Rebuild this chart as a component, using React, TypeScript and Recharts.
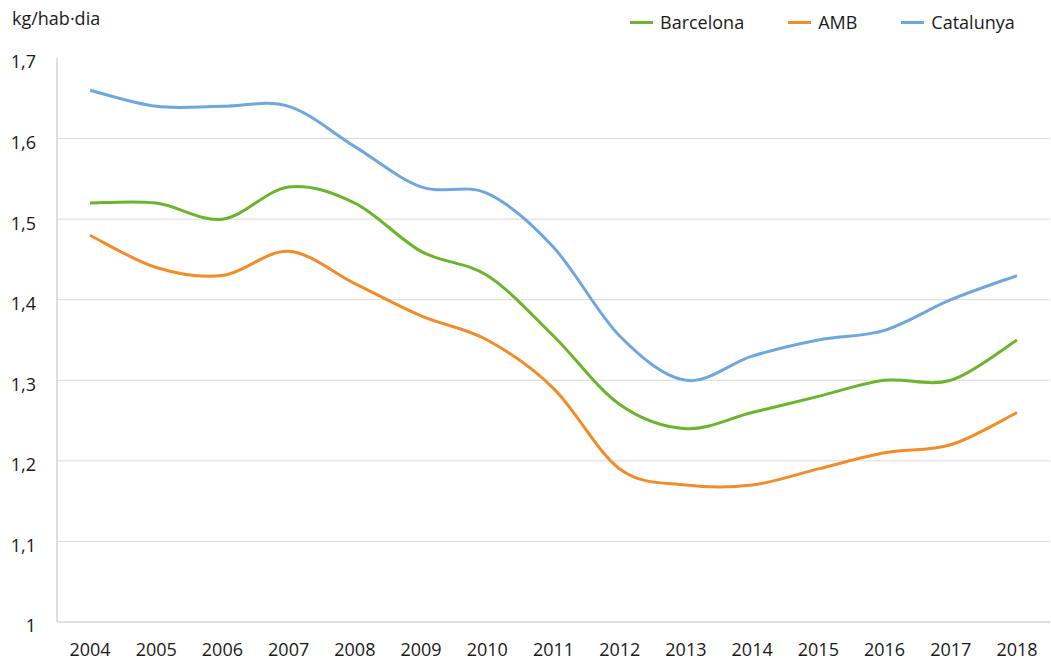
import React from 'react';
import { LineChart, Line, XAxis, YAxis, ReferenceLine } from 'recharts';

const years = ['2004', '2005', '2006', '2007', '2008', '2009', '2010', '2011', '2012', '2013', '2014', '2015', '2016', '2017', '2018'];
const barcelona = [1.52, 1.52, 1.5, 1.54, 1.52, 1.46, 1.43, 1.355, 1.27, 1.24, 1.26, 1.28, 1.3, 1.3, 1.35];
const amb = [1.48, 1.44, 1.43, 1.46, 1.42, 1.38, 1.35, 1.29, 1.19, 1.17, 1.17, 1.19, 1.21, 1.22, 1.26];
const catalunya = [1.66, 1.64, 1.64, 1.64, 1.59, 1.54, 1.532, 1.465, 1.355, 1.3, 1.33, 1.35, 1.362, 1.4, 1.43];
const yTicks = [1, 1.1, 1.2, 1.3, 1.4, 1.5, 1.6, 1.7];
const gridValues = [1.1, 1.2, 1.3, 1.4, 1.5, 1.6];

const series = [
  { key: 'barcelona', name: 'Barcelona', color: '#6bb52c' },
  { key: 'amb', name: 'AMB', color: '#f28c28' },
  { key: 'catalunya', name: 'Catalunya', color: '#6ea7dd' },
];

const data = years.map((year, i) => ({
  year,
  barcelona: barcelona[i],
  amb: amb[i],
  catalunya: catalunya[i],
}));

const FONT = '"Open Sans", sans-serif';
const TEXT = '#1a1a1a';

// Excel-style smoothing (uniform Catmull-Rom as cubic beziers)
function excelSmooth(context: any) {
  let pts: number[][] = [];
  return {
    areaStart() {},
    areaEnd() {},
    lineStart() {
      pts = [];
    },
    point(x: number, y: number) {
      pts.push([+x, +y]);
    },
    lineEnd() {
      if (!pts.length) return;
      context.moveTo(pts[0][0], pts[0][1]);
      for (let i = 0; i < pts.length - 1; i++) {
        const p0 = pts[i - 1] || pts[i];
        const p1 = pts[i];
        const p2 = pts[i + 1];
        const p3 = pts[i + 2] || p2;
        context.bezierCurveTo(
          p1[0] + (p2[0] - p0[0]) / 6,
          p1[1] + (p2[1] - p0[1]) / 6,
          p2[0] - (p3[0] - p1[0]) / 6,
          p2[1] - (p3[1] - p1[1]) / 6,
          p2[0],
          p2[1],
        );
      }
    },
  };
}

const fmt = (v: number) => String(Math.round(v * 10) / 10).replace('.', ',');

export default function App() {
  return (
    <div style={{ position: 'fixed', left: 0, top: 0, width: 1051, height: 663, background: '#fff', fontFamily: FONT }}>
      <div style={{ position: 'absolute', left: 12, top: 6, fontSize: 18, color: TEXT }}>kg/hab·dia</div>
      <div style={{ position: 'absolute', left: 630, top: 10, display: 'flex', fontSize: 18, color: TEXT }}>
        {series.map((s) => (
          <div key={s.key} style={{ display: 'flex', alignItems: 'center', marginRight: 44 }}>
            <span style={{ display: 'inline-block', width: 23, height: 3, background: s.color, marginRight: 7 }} />
            <span>{s.name}</span>
          </div>
        ))}
      </div>
      <LineChart width={1051} height={663} data={data} margin={{ top: 58, right: 1, bottom: 0, left: 0 }}>
        {gridValues.map((v) => (
          <ReferenceLine key={v} y={v} stroke="#d9d9d9" strokeWidth={1} />
        ))}
        <XAxis
          dataKey="year"
          height={41}
          padding={{ left: 33, right: 33 }}
          axisLine={{ stroke: '#bfbfbf' }}
          tickLine={false}
          tickSize={0}
          tickMargin={21}
          tick={{ fill: TEXT, fontSize: 18, fontFamily: FONT }}
          interval={0}
        />
        <YAxis
          width={57}
          domain={[1, 1.7]}
          ticks={yTicks}
          tickFormatter={fmt}
          axisLine={{ stroke: '#bfbfbf' }}
          tickLine={false}
          tickSize={0}
          tickMargin={21}
          tick={{ fill: TEXT, fontSize: 18, fontFamily: FONT, dy: 4 }}
        />
        {series.map((s) => (
          <Line
            key={s.key}
            dataKey={s.key}
            name={s.name}
            type={excelSmooth as any}
            stroke={s.color}
            strokeWidth={3}
            dot={false}
            activeDot={false}
            isAnimationActive={false}
          />
        ))}
      </LineChart>
    </div>
  );
}
